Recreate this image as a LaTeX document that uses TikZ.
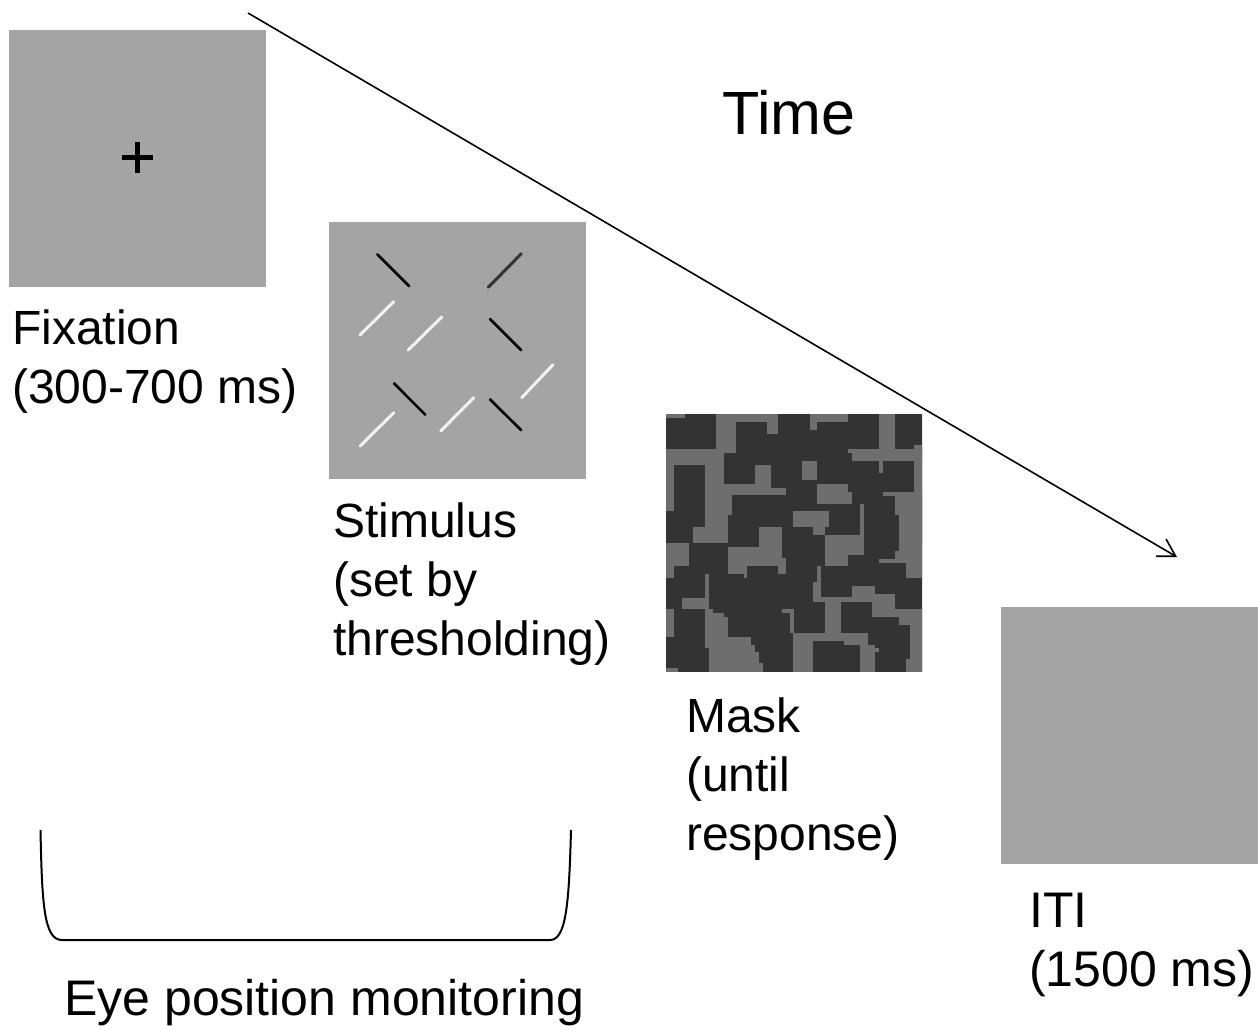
\documentclass[tikz,border=0pt]{standalone}
\usepackage{fontspec}
\setmainfont{Liberation Sans}
\usetikzlibrary{arrows.meta}
\definecolor{panelgray}{HTML}{A4A4A4}
\definecolor{maskdark}{HTML}{333333}
\definecolor{masklight}{HTML}{6E6E6E}
\definecolor{barwhite}{HTML}{F2F2F2}
\begin{document}
\begin{tikzpicture}[x=1pt,y=-1pt,
  panel/.style={fill=panelgray,draw=none,inner sep=0pt,minimum size=257pt},
  lbl/.style={anchor=base west,inner sep=0pt,font=\fontsize{48}{59}\selectfont},
  blackbar/.style={line width=2.6pt,black,line cap=round},
  darkbar/.style={line width=3pt,maskdark,line cap=round},
  whitebar/.style={line width=3pt,barwhite,line cap=round},
  timearrow/.style={line width=1.6pt,-{Straight Barb[length=17pt,width=20pt,line width=1.6pt]}},
  bracket/.style={line width=2pt,black},
  dk/.style={fill=maskdark,draw=none},
  lt/.style={fill=masklight,draw=none}]
\useasboundingbox (0,0) rectangle (1258,1029);

% panels
\node[panel] (fix) at (137.5,158.5) {};
\node[panel] (stim) at (457.5,350.5) {};
\node[panel,minimum width=256pt] (mask) at (794,542.5) {};
\node[panel] (iti) at (1129.5,735.5) {};

% fixation cross
\draw[line width=5pt] (122,157) -- (153,157);
\draw[line width=5pt] (137.5,141.5) -- (137.5,172.5);

% stimulus bars
\draw[blackbar] (377.3,254.3) -- (409.3,286.3);
\draw[blackbar] (490,319) -- (521.3,350.3);
\draw[blackbar] (394,383.3) -- (425.3,414.7);
\draw[blackbar] (490,399.3) -- (521.3,430.3);
\draw[darkbar] (488.3,287.3) -- (521.3,253.7);
\draw[whitebar] (360,335) -- (393.7,301.7);
\draw[whitebar] (408.3,350) -- (441.7,317);
\draw[whitebar] (521.7,397.7) -- (553,364.7);
\draw[whitebar] (440.7,431) -- (473.7,397.7);
\draw[whitebar] (360.3,446) -- (393.7,412.7);

% mask texture, quadrant 1 (top left): light base, dark blocks
\begin{scope}[shift={(664,412)},scale=1/3]
  \clip (6,6) rectangle (387,387);
  \fill[lt] (0,0) rectangle (400,400);
  \fill[dk] (5,17) rectangle (155,110);
  \fill[dk] (62,5) rectangle (155,17);
  \fill[dk] (215,30) rectangle (308,122);
  \fill[dk] (308,65) rectangle (392,122);
  \fill[dk] (342,5) rectangle (392,65);
  \fill[dk] (180,122) rectangle (272,215);
  \fill[dk] (272,122) rectangle (392,158);
  \fill[dk] (320,158) rectangle (392,228);
  \fill[dk] (365,228) rectangle (392,250);
  \fill[dk] (30,158) rectangle (122,345);
  \fill[dk] (5,298) rectangle (87,392);
  \fill[dk] (204,250) rectangle (392,345);
  \fill[dk] (192,310) rectangle (285,392);
  \fill[dk] (355,345) rectangle (392,392);
\end{scope}
% quadrant 2 (top right): dark base, light gaps
\begin{scope}[shift={(792,412)},scale=1/3]
  \clip (3,6) rectangle (390,387);
  \fill[dk] (0,0) rectangle (400,400);
  \fill[lt] (55,5) rectangle (168,30);
  \fill[lt] (55,5) rectangle (75,55);
  \fill[lt] (262,5) rectangle (308,110);
  \fill[lt] (168,110) rectangle (400,148);
  \fill[dk] (168,122) rectangle (180,148);
  \fill[lt] (365,98) rectangle (400,400);
  \fill[lt] (262,148) rectangle (272,183);
  \fill[lt] (30,148) rectangle (75,205);
  \fill[lt] (75,215) rectangle (168,240);
  \fill[lt] (75,240) rectangle (180,275);
  \fill[lt] (272,240) rectangle (308,252);
  \fill[lt] (308,240) rectangle (400,310);
  \fill[lt] (320,310) rectangle (400,400);
  \fill[lt] (204,275) rectangle (215,400);
  \fill[lt] (0,298) rectangle (110,345);
  \fill[lt] (62,345) rectangle (98,368);
  \fill[lt] (98,368) rectangle (215,400);
\end{scope}
% quadrant 3 (bottom left)
\begin{scope}[shift={(664,540)},scale=1/3]
  \clip (6,3) rectangle (387,393);
  \fill[dk] (0,0) rectangle (400,400);
  \fill[lt] (87,0) rectangle (192,10);
  \fill[lt] (285,0) rectangle (355,20);
  \fill[lt] (5,10) rectangle (75,78);
  \fill[lt] (5,78) rectangle (30,113);
  \fill[lt] (192,20) rectangle (355,55);
  \fill[lt] (192,55) rectangle (365,78);
  \fill[lt] (192,78) rectangle (248,102);
  \fill[lt] (240,102) rectangle (248,113);
  \fill[lt] (342,78) rectangle (365,102);
  \fill[lt] (122,102) rectangle (135,175);
  \fill[lt] (53,175) rectangle (135,207);
  \fill[lt] (122,195) rectangle (135,325);
  \fill[lt] (122,207) rectangle (148,325);
  \fill[lt] (122,218) rectangle (180,325);
  \fill[lt] (122,230) rectangle (192,325);
  \fill[lt] (122,290) rectangle (262,325);
  \fill[lt] (135,315) rectangle (272,335);
  \fill[lt] (135,335) rectangle (285,370);
  \fill[lt] (135,370) rectangle (297,400);
  \fill[lt] (5,207) rectangle (30,290);
  \fill[lt] (0,383) rectangle (42,400);
  \fill[lt] (355,207) rectangle (378,218);
  \fill[lt] (378,207) rectangle (400,280);
\end{scope}
% quadrant 4 (bottom right)
\begin{scope}[shift={(792,540)},scale=1/3]
  \clip (3,3) rectangle (390,393);
  \fill[dk] (0,0) rectangle (400,400);
  \fill[lt] (98,0) rectangle (215,45);
  \fill[lt] (98,45) rectangle (168,78);
  \fill[lt] (320,0) rectangle (400,33);
  \fill[lt] (308,33) rectangle (400,57);
  \fill[lt] (262,57) rectangle (400,68);
  \fill[lt] (342,68) rectangle (400,113);
  \fill[lt] (75,78) rectangle (87,125);
  \fill[lt] (62,125) rectangle (87,185);
  \fill[lt] (87,172) rectangle (180,185);
  \fill[lt] (180,138) rectangle (248,185);
  \fill[lt] (240,162) rectangle (308,230);
  \fill[lt] (308,207) rectangle (400,230);
  \fill[lt] (320,230) rectangle (400,255);
  \fill[lt] (355,255) rectangle (400,400);
  \fill[lt] (98,185) rectangle (148,278);
  \fill[lt] (0,207) rectangle (5,278);
  \fill[lt] (0,278) rectangle (228,302);
  \fill[lt] (0,302) rectangle (62,400);
  \fill[lt] (155,302) rectangle (228,315);
  \fill[lt] (204,315) rectangle (248,400);
  \fill[lt] (228,325) rectangle (262,335);
  \fill[lt] (342,358) rectangle (355,400);
\end{scope}

% time arrow
\coordinate (tstart) at (248,13);
\coordinate (tend) at (1177,557);
\draw[timearrow] (tstart) -- (tend);
\node[anchor=base west,inner sep=0pt,font=\fontsize{61}{72}\selectfont] (time) at (722,134) {Time};

% labels
\node[lbl] (fixlbl) at (12,344) {\begin{tabular}[t]{@{}l@{}}Fixation\\(300-700 ms)\end{tabular}};
\node[lbl] (stimlbl) at (333,537) {\begin{tabular}[t]{@{}l@{}}Stimulus\\(set by\\thresholding)\end{tabular}};
\node[lbl] (masklbl) at (686,732) {\begin{tabular}[t]{@{}l@{}}Mask\\(until\\response)\end{tabular}};
\node[lbl,font=\fontsize{50}{59}\selectfont] (itilbl) at (1029,927) {\begin{tabular}[t]{@{}l@{}}ITI\\(1500 ms)\end{tabular}};

% bracket
\coordinate (bl) at (40.5,830);
\coordinate (br) at (571,830);
\draw[bracket] (bl) .. controls (42,905) and (44,940) .. (62,940) -- (550,940) .. controls (566,940) and (569,905) .. (br);
\node[lbl,font=\fontsize{50}{59}\selectfont] (eye) at (64,1015) {Eye position monitoring};
\end{tikzpicture}
\end{document}
